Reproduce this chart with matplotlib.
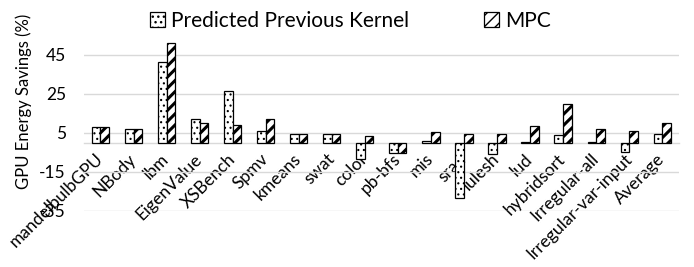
import matplotlib

matplotlib.use("Agg")
import matplotlib.pyplot as plt
import numpy as np

categories = [
    "mandelbulbGPU", "NBody", "lbm", "EigenValue", "XSBench", "Spmv",
    "kmeans", "swat", "color", "pb-bfs", "mis", "srad", "lulesh", "lud",
    "hybridsort", "Irregular-all", "Irregular-var-input", "Average",
]
predicted_prev = [7.8, 7.0, 41.1, 11.8, 26.2, 5.8, 4.6, 4.5, -8.6, -5.6,
                  0.7, -28.6, -6.1, 0.5, 3.6, 0.5, -4.7, 4.5]
mpc = [7.8, 7.0, 51.1, 9.9, 9.2, 12.1, 4.6, 4.6, 3.2, -5.6,
       5.5, 4.5, 4.5, 8.2, 19.8, 6.8, 5.8, 9.9]
yticks = [-35, -15, 5, 25, 45]

plt.rcParams["font.family"] = ["Lato", "DejaVu Sans"]

fig = plt.figure(figsize=(6.94, 2.67), dpi=100)
ax = fig.add_axes([0.121, 0.21, 0.857, 0.659])

x = np.arange(len(categories))
width = 0.26
with plt.rc_context({"hatch.linewidth": 0.8}):
    b1 = ax.bar(x - width / 2, predicted_prev, width, color="white",
                edgecolor="black", linewidth=0.9, hatch="...",
                label="Predicted Previous Kernel", zorder=3)
with plt.rc_context({"hatch.linewidth": 2.2}):
    b2 = ax.bar(x + width / 2, mpc, width, color="white",
                edgecolor="black", linewidth=0.9, hatch="///",
                label="MPC", zorder=3)

ax.set_xlim(-0.5, len(categories) - 0.5)
ax.set_ylim(-35, 55)
ax.set_yticks(yticks)
ax.set_yticklabels([str(t) for t in yticks], fontsize=12.5)
ax.tick_params(axis="y", length=0, pad=13)
ax.yaxis.grid(True, color="#d9d9d9", linewidth=1.0, zorder=0)
ax.set_axisbelow(True)

for side in ["top", "right", "left"]:
    ax.spines[side].set_visible(False)
ax.spines["bottom"].set_position(("data", 0))
ax.spines["bottom"].set_color("#d9d9d9")
ax.spines["bottom"].set_linewidth(1.0)
ax.spines["bottom"].set_zorder(2)

ax.set_xticks(x)
ax.set_xticklabels(categories, rotation=45, ha="right", va="center",
                   rotation_mode="anchor", fontsize=12.5)
ax.tick_params(axis="x", length=0, pad=10)

ax.set_ylabel("GPU Energy Savings (%)", fontsize=12)
ax.yaxis.set_label_coords(-0.088, 0.62)

fig.legend(handles=[b1, b2], loc="upper center", bbox_to_anchor=(0.505, 1.03),
           ncol=2, frameon=False, fontsize=15, handlelength=0.7,
           handleheight=0.7, handletextpad=0.3, columnspacing=3.6)

fig.savefig("out.png", dpi=100)
